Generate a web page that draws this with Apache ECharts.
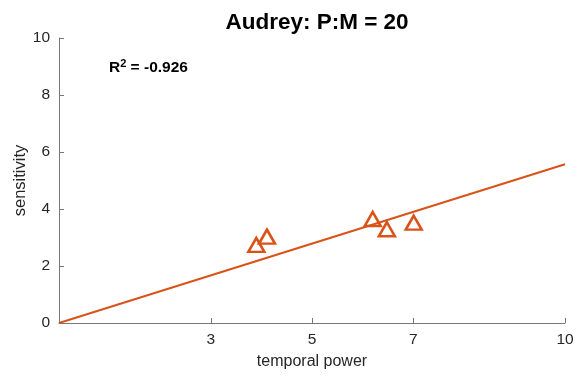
<!DOCTYPE html>
<html><head><meta charset="utf-8">
<script src="https://cdn.jsdelivr.net/npm/echarts@6/dist/echarts.min.js"></script>
<style>html,body{margin:0;padding:0;background:#fff}#c{width:584px;height:376px}</style>
</head><body><div id="c"></div>
<script>
var titleText = 'Audrey: P:M = 20';
var xTicks = [3, 5, 7, 10];
var yTicks = [0, 2, 4, 6, 8, 10];
var pointsX = [3.90, 4.11, 6.20, 6.48, 7.01];
var pointsY = [2.74, 3.03, 3.65, 3.29, 3.52];
var fitX = [0, 10];
var fitY = [0, 5.57];
var r2Text = '-0.926';

var chart = echarts.init(document.getElementById('c'));
var col = '#D95319';
var axisCol = '#777';
var txtCol = '#262626';
var font = 'Liberation Sans, Arial, sans-serif';
chart.setOption({
  animation: false,
  title: {
    text: titleText, left: 312, top: 6, textAlign: 'center',
    textStyle: {fontFamily: font, fontSize: 22.5, fontWeight: 'bold', color: '#000'}
  },
  grid: {left: 59, right: 19, top: 38, bottom: 53, containLabel: false, outerBoundsMode: 'none'},
  xAxis: {
    type: 'value', min: 0, max: 10,
    name: 'temporal power', nameLocation: 'middle', nameGap: 31, nameMoveOverlap: false,
    nameTextStyle: {fontFamily: font, fontSize: 16, color: txtCol},
    axisLine: {show: true, lineStyle: {color: axisCol}},
    axisTick: {show: true, inside: true, length: 5, customValues: xTicks, lineStyle: {color: axisCol}},
    axisLabel: {customValues: xTicks, fontFamily: font, fontSize: 15.5, color: txtCol, margin: 9},
    splitLine: {show: false}
  },
  yAxis: {
    type: 'value', min: 0, max: 10, interval: 2,
    name: 'sensitivity', nameLocation: 'middle', nameGap: 30, nameRotate: 90, nameMoveOverlap: false,
    nameTextStyle: {fontFamily: font, fontSize: 16.5, color: txtCol},
    axisLine: {show: true, lineStyle: {color: axisCol}},
    axisTick: {show: true, inside: true, length: 5, lineStyle: {color: axisCol}},
    axisLabel: {fontFamily: font, fontSize: 15.5, color: txtCol, margin: 9},
    splitLine: {show: false}
  },
  graphic: [{
    type: 'text', left: 109, top: 58,
    style: {
      text: '{a|R}{s|2}{a| = ' + r2Text + '}',
      rich: {
        a: {fontFamily: font, fontSize: 15.5, fontWeight: 'bold', fill: '#000', verticalAlign: 'bottom'},
        s: {fontFamily: font, fontSize: 11, fontWeight: 'bold', fill: '#000', verticalAlign: 'top', padding: [0, 0, 7, 0]}
      }
    }
  }],
  series: [{
    type: 'line', data: fitX.map(function (x, i) { return [x, fitY[i]]; }),
    showSymbol: false, lineStyle: {color: col, width: 2}, z: 2
  }, {
    type: 'scatter', data: pointsX.map(function (x, i) { return [x, pointsY[i]]; }),
    symbol: 'triangle', symbolSize: [16, 14],
    itemStyle: {color: 'rgba(0,0,0,0)', borderColor: col, borderWidth: 2.5, opacity: 1}, z: 3
  }]
});
</script></body></html>
